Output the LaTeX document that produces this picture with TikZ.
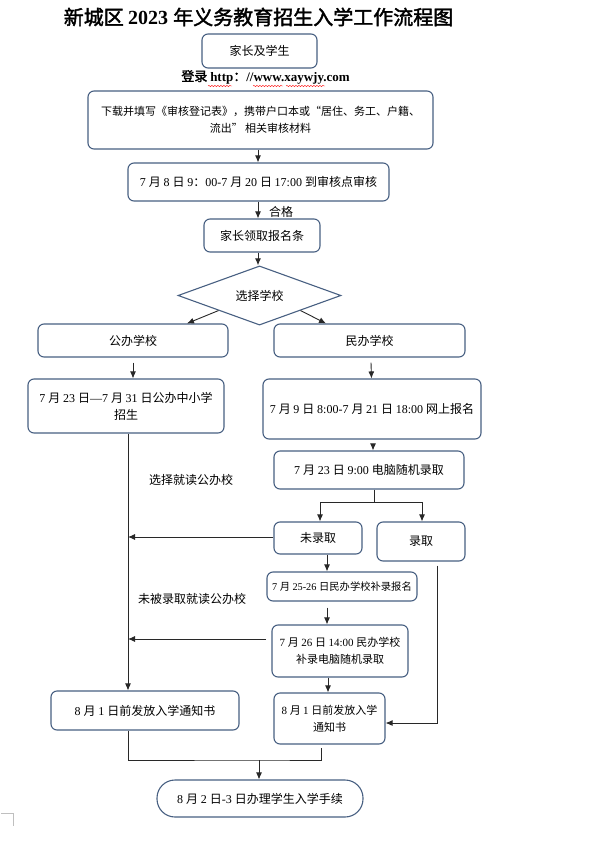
\documentclass[tikz,border=0pt]{standalone}
\usepackage{fontspec}
\setmainfont{Liberation Serif}
\newfontfamily\cjk{Noto Sans CJK SC}[AutoFakeBold=2]
\usetikzlibrary{shapes.geometric,arrows.meta,calc,decorations.pathmorphing}
\XeTeXinterchartokenstate=1
\newXeTeXintercharclass\cjkclass
\count255="3000
\loop\XeTeXcharclass\count255=\cjkclass \ifnum\count255<"303F \advance\count255 by 1 \repeat
\count255="4E00
\loop\XeTeXcharclass\count255=\cjkclass \ifnum\count255<"9FFF \advance\count255 by 1 \repeat
\count255="FF00
\loop\XeTeXcharclass\count255=\cjkclass \ifnum\count255<"FFEF \advance\count255 by 1 \repeat
\XeTeXcharclass"201C=\cjkclass
\XeTeXcharclass"201D=\cjkclass
\XeTeXinterchartoks 0 \cjkclass = {\cjk}
\XeTeXinterchartoks 4095 \cjkclass = {\cjk}
\XeTeXinterchartoks \cjkclass 0 = {\rmfamily}
\XeTeXinterchartoks 4095 0 = {\rmfamily}
\definecolor{bc}{RGB}{72,96,130}
\definecolor{ln}{RGB}{40,40,40}
\tikzset{
  box/.style={draw=bc, line width=1.1pt, rounded corners=6pt, fill=white, align=center, inner sep=2pt, font=\fontsize{12}{17}\selectfont},
  arr/.style={draw=ln, line width=0.9pt, -{Latex[length=7pt,width=6pt]}},
  ln/.style={draw=ln, line width=0.9pt},
  lbl/.style={font=\fontsize{12}{15}\selectfont, inner sep=0pt}
}
\begin{document}
\begin{tikzpicture}[x=1pt,y=-1pt]
\useasboundingbox (0,0) rectangle (614,842);
\fill[white] (0,0) rectangle (614,842);
% title
\node[font=\bfseries\fontsize{20}{24}\selectfont, inner sep=0pt] (title) at (258.5,17) {新城区 2023 年义务教育招生入学工作流程图};
% nodes
\node[box, minimum width=115pt, minimum height=34pt] (b1) at (259.5,51) {家长及学生};
\node[font=\bfseries\fontsize{13}{15}\selectfont, inner sep=0pt] (url) at (265.5,77) {登录 http：//www.xaywjy.com};
\node[box, minimum width=345pt, minimum height=58pt, font=\fontsize{11}{17}\selectfont] (b2) at (260.5,120) {下载并填写《审核登记表》，携带户口本或“居住、务工、户籍、\\流出” 相关审核材料};
\node[box, minimum width=261pt, minimum height=38pt] (b3) at (258.5,182) {7 月 8 日 9：00-7 月 20 日 17:00 到审核点审核};
\node[lbl] (hg) at (281,212) {合格};
\node[box, minimum width=116pt, minimum height=33pt] (b4) at (262,235.5) {家长领取报名条};
\node[draw=bc, line width=1.1pt, shape=diamond, minimum width=163pt, minimum height=57pt, inner sep=0pt, font=\fontsize{12}{15}\selectfont] (dia) at (259.5,295.5) {选择学校};
\node[box, minimum width=190pt, minimum height=33pt] (pub1) at (133,340.5) {公办学校};
\node[box, minimum width=191pt, minimum height=33pt] (pri1) at (369.5,340.5) {民办学校};
\node[box, minimum width=196pt, minimum height=54pt] (pub2) at (126,406) {7 月 23 日—7 月 31 日公办中小学\\招生};
\node[box, minimum width=218pt, minimum height=60pt] (pri2) at (372,409) {7 月 9 日 8:00-7 月 21 日 18:00 网上报名};
\node[box, minimum width=190pt, minimum height=38pt] (pri3) at (369,470) {7 月 23 日 9:00 电脑随机录取};
\node[box, minimum width=88pt, minimum height=32pt] (wl) at (318,538) {未录取};
\node[box, minimum width=88pt, minimum height=39pt] (lq) at (421,541.5) {录取};
\node[box, minimum width=150pt, minimum height=29pt, font=\fontsize{10.3}{14}\selectfont] (bl) at (342,586.5) {7 月 25-26 日民办学校补录报名};
\node[box, minimum width=136pt, minimum height=52pt, font=\fontsize{11}{17}\selectfont] (bd) at (340,651) {7 月 26 日 14:00 民办学校\\补录电脑随机录取};
\node[box, minimum width=111pt, minimum height=51pt, font=\fontsize{11}{17}\selectfont] (nr) at (329.5,718.5) {8 月 1 日前发放入学\\通知书};
\node[box, minimum width=188pt, minimum height=39pt] (nl) at (145,710.5) {8 月 1 日前发放入学通知书};
\node[box, rounded corners=18pt, minimum width=206pt, minimum height=37pt] (fin) at (260,798.5) {8 月 2 日-3 日办理学生入学手续};
\node[lbl] (l1) at (191,480) {选择就读公办校};
\node[lbl] (l2) at (192,599) {未被录取就读公办校};
% helper coordinates
\coordinate (cx) at (258,0);
\coordinate (vx) at (128,0);
\coordinate (mx) at (327,0);
\coordinate (rx) at (437,0);
\coordinate (fk) at (374,502);
\coordinate (bdl) at (266,639);
\coordinate (jn) at (259,760);
\coordinate (jr) at (321,748);
% connectors
\draw[arr] (b2.south -| cx) -- (b3.north -| cx);
\draw[arr] (b3.south -| cx) -- (b4.north -| cx);
\draw[arr] (b4.south -| cx) -- (dia.north -| cx);
\draw[arr] (dia.south west) -- ($(pub1.north)+(54,0)$);
\draw[arr] (dia.south east) -- ($(pri1.north)+(-43.5,0)$);
\draw[arr] ($(pub1.south)+(0,5)$) -- (pub2.north -| pub1.south);
\draw[arr] ($(pri1.south)+(1.5,5)$) -- ($(pri2.north)+(-0.5,0)$);
\draw[arr] ($(pri2.south)+(1,4)$) -- ($(pri3.north)+(4,0)$);
\draw[ln] (pri3.south -| fk) -- (fk);
\draw[arr] (fk) -| ($(wl.north)+(2,0)$);
\draw[arr] (fk) -| ($(lq.north)+(1,0)$);
\draw[arr] ($(wl.west)+(0,-1)$) -- ($(wl.west -| vx)+(0,-1)$);
\draw[arr] (pub2.south -| vx) -- (nl.north -| vx);
\draw[arr] (wl.south -| mx) -- (bl.north -| mx);
\draw[arr] ($(bl.south -| mx)+(0,6)$) -- (bd.north -| mx);
\draw[arr] (bdl) -- (bdl -| vx);
\draw[arr] ($(bd.south -| mx)+(1,0)$) -- ($(nr.north -| mx)+(1,0)$);
\draw[arr] ($(lq.south -| rx)+(0,4)$) |- ($(nr.east)+(0,4.5)$);
\draw[ln] (nl.south -| vx) |- (jn) -| (jr);
\draw[arr] (jn) -- (fin.north -| jn);
% spell-check squiggles and page corner mark
\draw[red, line width=0.4pt, decorate, decoration={snake,amplitude=0.6pt,segment length=3pt}] (208,86) -- (232,86);
\draw[red, line width=0.4pt, decorate, decoration={snake,amplitude=0.6pt,segment length=3pt}] (253,86) -- (283,86);
\draw[red, line width=0.4pt, decorate, decoration={snake,amplitude=0.6pt,segment length=3pt}] (286,86) -- (325,86);
\draw[gray!50, line width=0.8pt] (1,813) -- (13,813) -- (13,826);
\end{tikzpicture}
\end{document}
